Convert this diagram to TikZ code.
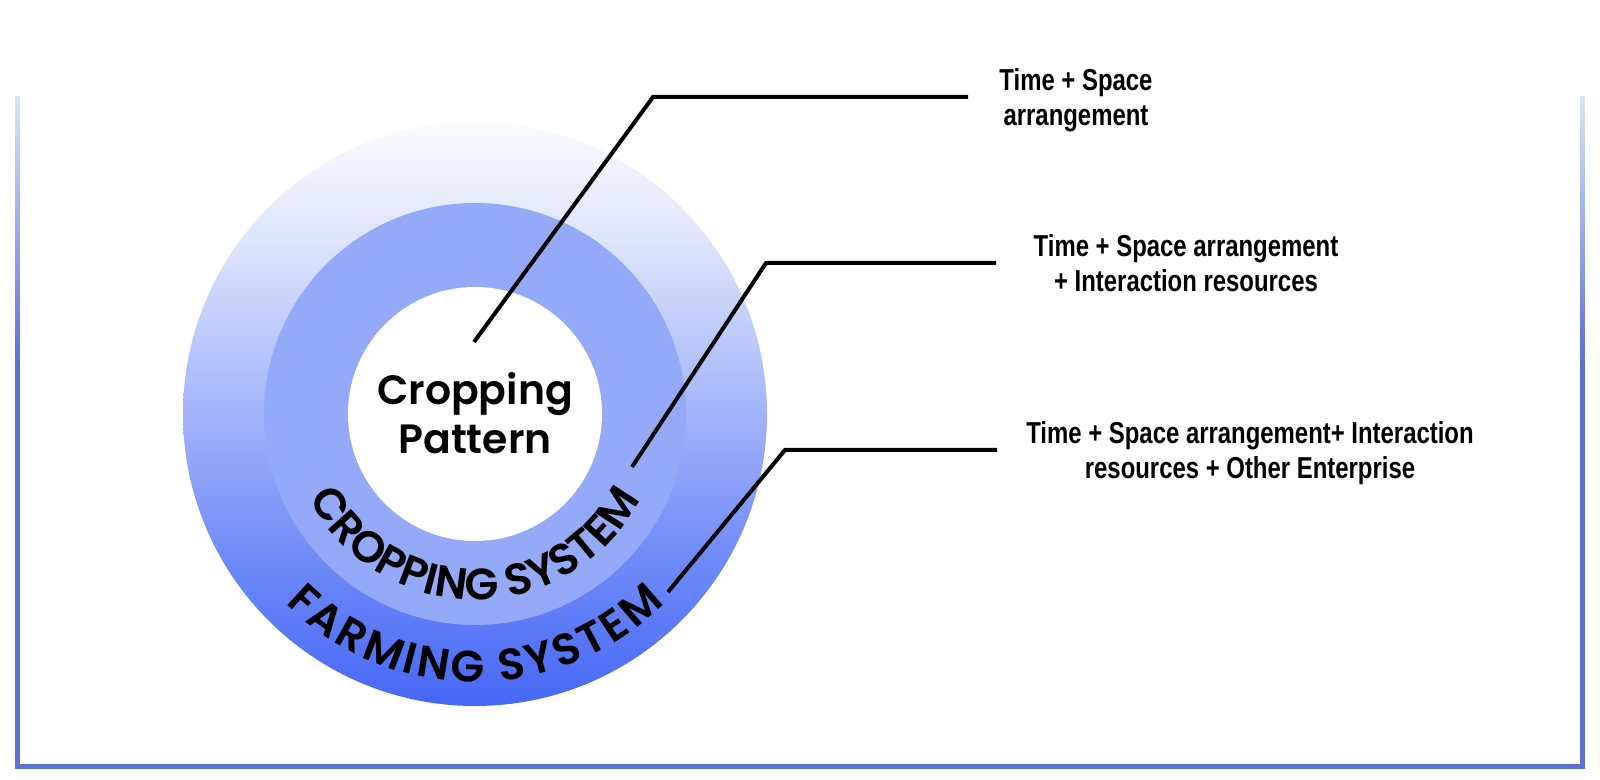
\documentclass[tikz,border=0pt]{standalone}
\usepackage{fontspec}
\usetikzlibrary{decorations.text,calc}
\newfontfamily\labfont{Liberation Sans}[FakeStretch=0.79]
\newfontfamily\popfont{Poppins}[UprightFont={* SemiBold}]
\definecolor{ringmid}{RGB}{148,169,248}
\definecolor{oa}{RGB}{250,251,255}
\definecolor{ob}{RGB}{222,229,252}
\definecolor{oc}{RGB}{162,179,250}
\definecolor{od}{RGB}{110,138,248}
\definecolor{oe}{RGB}{70,103,246}
\definecolor{framedark}{RGB}{90,114,214}
\definecolor{framelight}{RGB}{220,227,248}
\pgfdeclareverticalshading{outerfade}{100bp}{color(0bp)=(oe); color(25bp)=(oe); color(37.5bp)=(od); color(50bp)=(oc); color(65bp)=(ob); color(75bp)=(oa); color(100bp)=(oa)}
\begin{document}
\begin{tikzpicture}[x=0.75pt,y=0.75pt,
  leader/.style={line width=3pt, line join=miter, black},
  lab/.style={font={\labfont\bfseries\fontsize{22.7}{26.3}\selectfont}, align=center, inner sep=0pt, anchor=north},
  arctext/.style={decorate, decoration={text along path, text align={fit to path}, text={|\popfont\fontsize{33}{34}\selectfont|#1}}}]
\useasboundingbox (0,0) rectangle (1600,780);
\fill[white] (0,0) rectangle (1600,780);
% frame
\fill[framedark] (15.3,11.3) rectangle (1584.7,16);
\fill[framedark] (15.3,11.3) rectangle (19.8,420);
\shade[top color=framelight, bottom color=framedark] (15.3,420) rectangle (19.8,683);
\fill[framedark] (1580.2,11.3) rectangle (1584.7,420);
\shade[top color=framelight, bottom color=framedark] (1580.2,420) rectangle (1584.7,683);
% rings
\coordinate (c) at (475,366);
\path[shading=outerfade] (c) circle[radius=292];
\fill[ringmid] (c) circle[radius=211];
\fill[white] (c) circle[radius=127];
\path[arctext={CROPPING SYSTEM}] ($(c)+(207:186)$) arc[start angle=207, end angle=331.5, radius=186];
\path[arctext={FARMING SYSTEM}] ($(c)+(225:268)$) arc[start angle=225, end angle=315, radius=268];
\node[font={\popfont\fontsize{30.7}{36.5}\selectfont}, align=center, inner sep=0pt, anchor=north] (cp) at (475,408) {Cropping\\Pattern};
% leaders
\coordinate (p1) at (474,438); \coordinate (k1) at (653,683); \coordinate (e1) at (968,683);
\coordinate (p2) at (632,313); \coordinate (k2) at (766,517); \coordinate (e2) at (996,517);
\coordinate (p3) at (668,188); \coordinate (k3) at (785,330); \coordinate (e3) at (997,330);
\draw[leader] (p1) -- (k1) -- (e1);
\draw[leader] (p2) -- (k2) -- (e2);
\draw[leader] (p3) -- (k3) -- (e3);
% labels
\node[lab] (t1) at (1076,712) {Time + Space\\arrangement};
\node[lab] (t2) at (1186,546) {Time + Space arrangement\\+ Interaction resources};
\node[lab] (t3) at (1250,359) {Time + Space arrangement+ Interaction\\resources + Other Enterprise};
\end{tikzpicture}
\end{document}
